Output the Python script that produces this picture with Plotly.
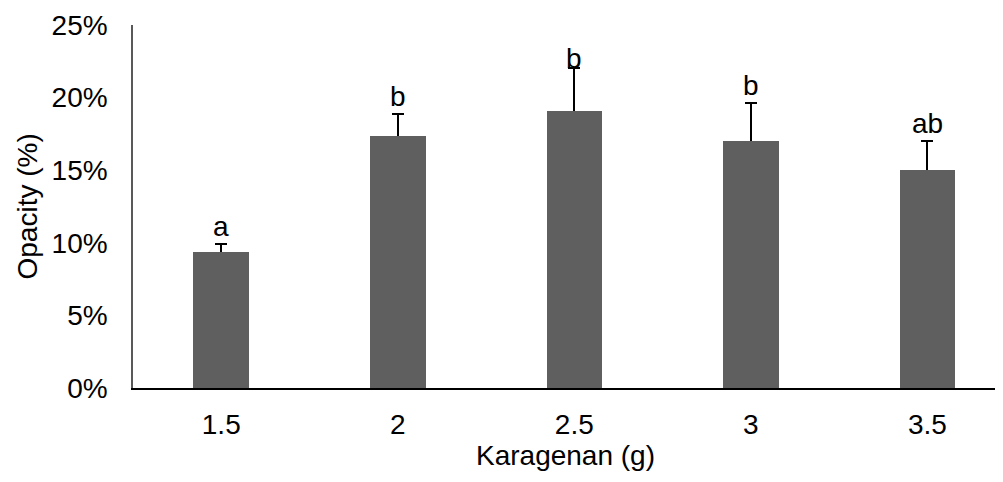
import plotly.graph_objects as go

categories = ["1.5", "2", "2.5", "3", "3.5"]
opacity = [9.35, 17.35, 19.05, 17.0, 15.0]
error_plus = [0.6, 1.55, 3.0, 2.6, 2.0]
letters = ["a", "b", "b", "b", "ab"]

FONT = "Liberation Sans, Arial, sans-serif"
x_idx = list(range(len(categories)))
label_shift = [0, 0, -8, 0, 0]  # the letter over 2.5 sits on its error cap

fig = go.Figure()
# bars carrying the (symmetric) error bars; the lower half is hidden by the bar drawn on top
fig.add_trace(go.Bar(
    x=x_idx, y=opacity, width=0.315,
    marker=dict(color="#5f5f5f", line=dict(width=0)),
    error_y=dict(type="data", array=error_plus, symmetric=True,
                 color="#000000", thickness=2, width=6),
    showlegend=False, hoverinfo="skip",
))
fig.add_trace(go.Bar(
    x=x_idx, y=opacity, width=0.315,
    marker=dict(color="#5f5f5f", line=dict(width=0)),
    showlegend=False,
))

for xi, v, e, t, s in zip(x_idx, opacity, error_plus, letters, label_shift):
    fig.add_annotation(x=xi, y=v + e, text=t, showarrow=False, yanchor="bottom",
                       yshift=s, font=dict(family=FONT, size=28, color="#000000"))

fig.add_annotation(text="Karagenan (g)", xref="paper", yref="paper", x=0.5, y=0,
                   yshift=-50, yanchor="top", showarrow=False,
                   font=dict(family=FONT, size=28, color="#000000"))
fig.add_annotation(text="Opacity (%)", xref="paper", yref="paper", x=0, xshift=-106,
                   y=0.5, textangle=-90, showarrow=False, xanchor="center",
                   font=dict(family=FONT, size=28, color="#000000"))

# page body has an 8px margin, so margins are offset accordingly
fig.update_layout(
    width=1003, height=482,
    margin=dict(l=125, r=13, t=17, b=102, autoexpand=False),
    paper_bgcolor="white", plot_bgcolor="white",
    font=dict(family=FONT, size=28, color="#000000"),
    bargap=0, barmode="overlay",
)
fig.update_xaxes(range=[-0.5, 4.4], tickvals=x_idx, ticktext=categories,
                 showline=True, linecolor="#000000", linewidth=2, showgrid=False,
                 ticks="", ticklabelstandoff=10, zeroline=False, automargin=False)
fig.update_yaxes(range=[0, 25], tickvals=[0, 5, 10, 15, 20, 25],
                 ticktext=["0%", "5%", "10%", "15%", "20%", "25%"],
                 showline=True, linecolor="#595959", linewidth=1.5, showgrid=False,
                 ticks="", ticklabelstandoff=18, zeroline=False, automargin=False)

fig.write_html("out.html")
